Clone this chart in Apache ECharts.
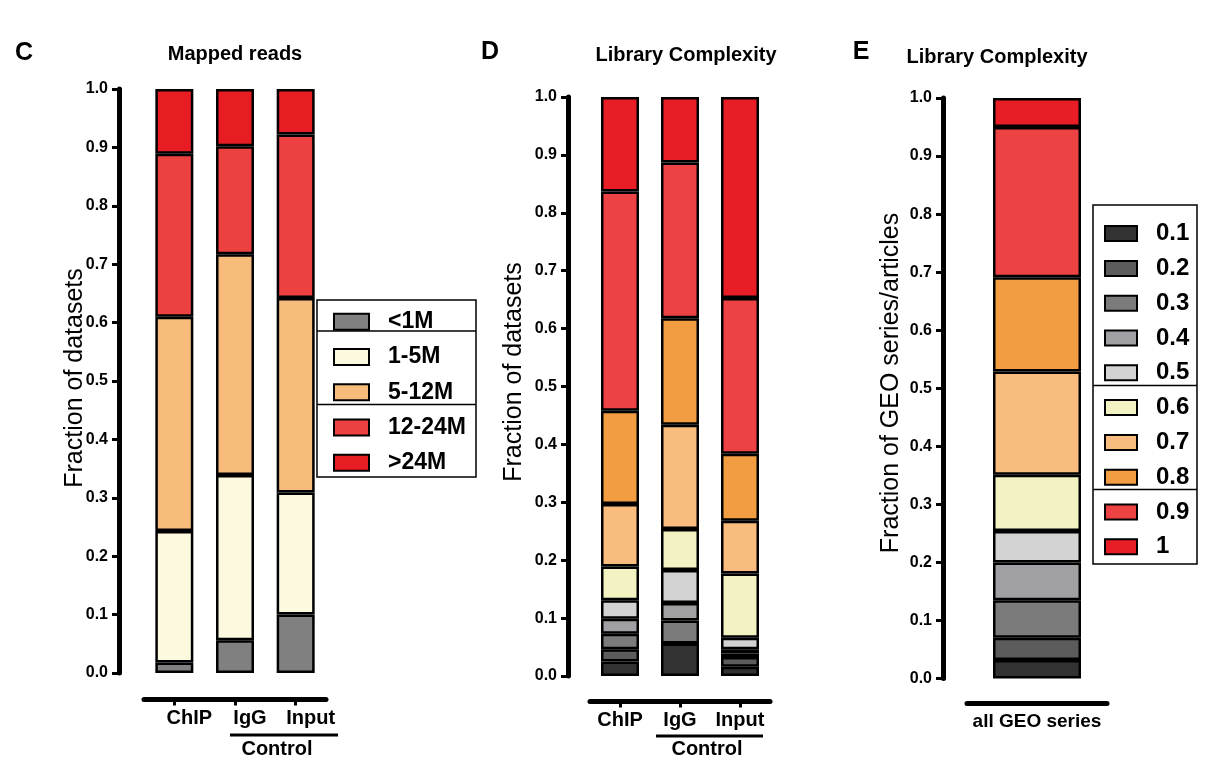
<!DOCTYPE html>
<html>
<head>
<meta charset="utf-8">
<script src="https://cdn.jsdelivr.net/npm/echarts@6/dist/echarts.min.js"></script>
<style>
html,body{margin:0;padding:0;background:#fff;}
#chart{width:1205px;height:757px;}
</style>
</head>
<body>
<div id="chart"></div>
<script>
// ---------- Data ----------
const catC = ['ChIP', 'IgG', 'Input'];
const catD = ['ChIP', 'IgG', 'Input'];
const catE = ['all GEO series'];

// Panel C: mapped reads (fractions per bar: ChIP, IgG, Input)
const levelsC = ['<1M', '1-5M', '5-12M', '12-24M', '>24M'];
const lt1M   = [0.018, 0.056, 0.100];
const m1to5  = [0.225, 0.283, 0.209];
const m5to12 = [0.367, 0.378, 0.333];
const m12to24= [0.279, 0.185, 0.280];
const gt24M  = [0.111, 0.098, 0.078];

// Panel D: library complexity (ChIP, IgG, Input)
const levelsLC = ['0.1', '0.2', '0.3', '0.4', '0.5', '0.6', '0.7', '0.8', '0.9', '1'];
const lc01 = [0.025, 0.056, 0.016];
const lc02 = [0.021, 0.000, 0.017];
const lc03 = [0.027, 0.040, 0.006];
const lc04 = [0.026, 0.030, 0.007];
const lc05 = [0.032, 0.057, 0.020];
const lc06 = [0.058, 0.071, 0.111];
const lc07 = [0.108, 0.180, 0.091];
const lc08 = [0.161, 0.184, 0.116];
const lc09 = [0.379, 0.269, 0.269];
const lc10 = [0.163, 0.113, 0.347];

// Panel E: library complexity, all GEO series (one value per level 0.1..1)
const geoSeries = [0.032, 0.038, 0.065, 0.065, 0.054, 0.097, 0.178, 0.162, 0.259, 0.050];

// ---------- Styles ----------
const colorsC  = ['#808080', '#fcf9df', '#f7bb7c', '#ec4041', '#e81d24'];
const colorsLC = ['#323232', '#5c5c5c', '#7b7b7b', '#a09fa3', '#d3d3d3',
                  '#f2f2c2', '#f8bc7e', '#f39d43', '#ec4243', '#e91d25'];
const FF = '"Liberation Sans", Arial, Helvetica, sans-serif';

const chart = echarts.init(document.getElementById('chart'), null, {renderer: 'canvas'});

function yAx(gridIndex, offset) {
  return {
    type: 'value', gridIndex: gridIndex, min: 0, max: 1, interval: 0.1,
    offset: offset,
    axisLine: {show: true, lineStyle: {color: '#000', width: 5}},
    axisTick: {show: true, length: 7, lineStyle: {color: '#000', width: 3}},
    axisLabel: {margin: 11, color: '#000', fontSize: 16, fontWeight: 'bold', fontFamily: FF,
                formatter: v => v.toFixed(1)},
    splitLine: {show: false}
  };
}
function xAx(gridIndex, data, offset, ticks, labelPad, fs) {
  return {
    type: 'category', gridIndex: gridIndex, data: data, offset: offset,
    axisLine: {show: true, onZero: false, lineStyle: {color: '#000', width: 5}},
    axisTick: {show: ticks, alignWithLabel: true, length: 6, lineStyle: {color: '#000', width: 3}},
    axisLabel: {margin: 9, color: '#000', fontSize: fs, fontWeight: 'bold', fontFamily: FF,
                padding: labelPad, interval: 0}
  };
}

const series = [];
const dataC = [lt1M, m1to5, m5to12, m12to24, gt24M];
levelsC.forEach((n, i) => series.push({
  name: n, type: 'bar', stack: 'C', xAxisIndex: 0, yAxisIndex: 0, barWidth: 38,
  data: dataC[i],
  itemStyle: {color: colorsC[i], borderColor: '#000', borderWidth: 2.5}
}));
const dataD = [lc01, lc02, lc03, lc04, lc05, lc06, lc07, lc08, lc09, lc10];
levelsLC.forEach((n, i) => series.push({
  name: n, type: 'bar', stack: 'D', xAxisIndex: 1, yAxisIndex: 1, barWidth: 38,
  data: dataD[i],
  itemStyle: {color: colorsLC[i], borderColor: '#000', borderWidth: 2.5}
}));
levelsLC.forEach((n, i) => series.push({
  name: n, type: 'bar', stack: 'E', xAxisIndex: 2, yAxisIndex: 2, barWidth: 88,
  data: [geoSeries[i]],
  itemStyle: {color: colorsLC[i], borderColor: '#000', borderWidth: 2.5}
}));

function txt(x, y, text, size, weight, align, rot) {
  return {
    type: 'text', x: x, y: y, rotation: rot || 0, z: 10,
    style: {text: text, fill: '#000', align: align || 'center', verticalAlign: 'middle',
            font: (weight || 'bold') + ' ' + size + 'px ' + FF}
  };
}
function line(x1, y1, x2, y2, w) {
  return {type: 'line', z: 10, shape: {x1: x1, y1: y1, x2: x2, y2: y2},
          style: {stroke: '#000', lineWidth: w}};
}
function box(x, y, w, h) {
  return {type: 'rect', z: 5, shape: {x: x, y: y, width: w, height: h},
          style: {fill: 'none', stroke: '#000', lineWidth: 1.5}};
}

const option = {
  animation: false,
  backgroundColor: '#ffffff',
  grid: [
    {left: 144, width: 182, top: 89, height: 584},
    {left: 590, width: 180, top: 97, height: 579},
    {left: 967, width: 140, top: 98, height: 580.5}
  ],
  xAxis: [
    xAx(0, catC, 26.5, true, [0, 0, 0, 30], 20),
    xAx(1, catD, 25.5, true, [0, 0, 0, 0], 20),
    xAx(2, catE, 24.5, false, [0, 0, 0, 0], 19)
  ],
  yAxis: [yAx(0, 25), yAx(1, 22), yAx(2, 24)],
  legend: [
    {
      orient: 'vertical', left: 328, top: 304.7, itemWidth: 35, itemHeight: 16, itemGap: 11.25,
      data: levelsC, selectedMode: false, icon: 'rect',
      itemStyle: {borderColor: '#000', borderWidth: 2},
      textStyle: {fontSize: 23, fontWeight: 'bold', color: '#000', fontFamily: FF,
                  lineHeight: 24, padding: [0, 0, 0, 14]}
    },
    {
      orient: 'vertical', left: 1099, top: 216.6, itemWidth: 32, itemHeight: 15, itemGap: 10.8,
      data: levelsLC, selectedMode: false, icon: 'rect',
      itemStyle: {borderColor: '#000', borderWidth: 2},
      textStyle: {fontSize: 24, fontWeight: 'bold', color: '#000', fontFamily: FF,
                  lineHeight: 24, padding: [0, 0, 0, 14]}
    }
  ],
  graphic: [
    // panel letters & titles
    txt(24, 53, 'C', 25, 'bold'),
    txt(235, 54, 'Mapped reads', 20, 'bold'),
    txt(490, 52, 'D', 25, 'bold'),
    txt(686, 55, 'Library Complexity', 20, 'bold'),
    txt(861, 52, 'E', 25, 'bold'),
    txt(997, 57, 'Library Complexity', 20, 'bold'),
    // y axis names
    txt(75, 378, 'Fraction of datasets', 25, 'normal', 'center', Math.PI / 2),
    txt(514, 372, 'Fraction of datasets', 25, 'normal', 'center', Math.PI / 2),
    txt(891, 383, 'Fraction of GEO series/articles', 25, 'normal', 'center', Math.PI / 2),
    // Control brackets
    line(230, 735, 338, 735, 3),
    txt(277, 749, 'Control', 20, 'bold'),
    line(656, 736, 763, 736, 3),
    txt(707, 749, 'Control', 20, 'bold'),
    // legend boxes
    box(317, 300, 159, 177),
    line(317, 331, 476, 331, 1.5),
    line(317, 404.5, 476, 404.5, 1.5),
    box(1093, 205, 104, 359),
    line(1093, 385.5, 1197, 385.5, 1.5),
    line(1093, 489.5, 1197, 489.5, 1.5)
  ],
  series: series
};
chart.setOption(option);
</script>
</body>
</html>
